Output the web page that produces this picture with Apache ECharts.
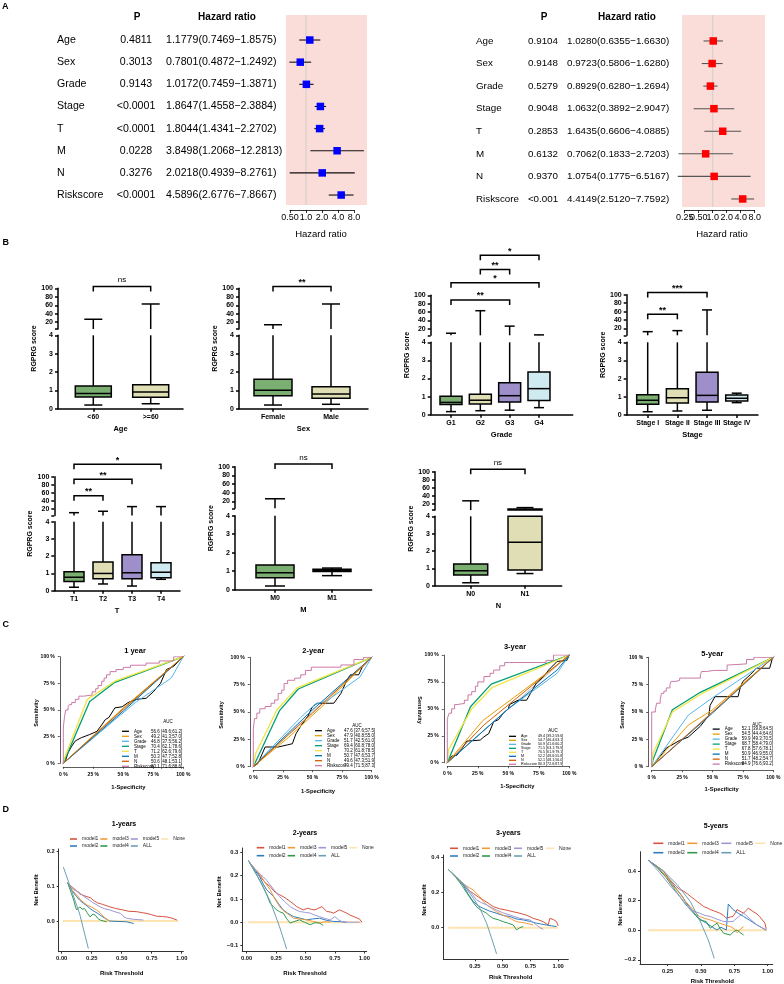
<!DOCTYPE html>
<html>
<head>
<meta charset="utf-8">
<script src="https://cdn.jsdelivr.net/npm/echarts@6/dist/echarts.min.js"></script>
<style>
html, body { margin: 0; padding: 0; background: #fff; }
#main { width: 784px; height: 984px; }
</style>
</head>
<body>
<div id="main"></div>
<script>
var FONT = '"Liberation Sans", Arial, Helvetica, sans-serif';
var LW = 1.5;

// ---------- A: cox forest plots ----------
var coxVars = ['Age', 'Sex', 'Grade', 'Stage', 'T', 'M', 'N', 'Riskscore'];
var coxLeftP = ['0.4811', '0.3013', '0.9143', '<0.0001', '<0.0001', '0.0228', '0.3276', '<0.0001'];
var coxLeftHR = [1.1779, 0.7801, 1.0172, 1.8647, 1.8044, 3.8498, 2.0218, 4.5896];
var coxLeftLo = [0.7469, 0.4872, 0.7459, 1.4558, 1.4341, 1.2068, 0.4939, 2.6776];
var coxLeftHi = [1.8575, 1.2492, 1.3871, 2.3884, 2.2702, 12.2813, 8.2761, 7.8667];
var coxLeftTicks = [0.5, 1, 2, 4, 8];
var coxRightP = ['0.9104', '0.9148', '0.5279', '0.9048', '0.2853', '0.6132', '0.9370', '<0.001'];
var coxRightHR = [1.0280, 0.9723, 0.8929, 1.0632, 1.6435, 0.7062, 1.0754, 4.4149];
var coxRightLo = [0.6355, 0.5806, 0.6280, 0.3892, 0.6606, 0.1833, 0.1775, 2.5120];
var coxRightHi = [1.6630, 1.6280, 1.2694, 2.9047, 4.0885, 2.7203, 6.5167, 7.7592];
var coxRightTicks = [0.25, 0.5, 1, 2, 4, 8];

// ---------- B: box plots [min, q1, median, q3, max] ----------
var ageCats = ['<60', '>=60'];
var ageStats = [[0.2, 0.64, 0.83, 1.24, 27], [0.27, 0.62, 0.91, 1.31, 63]];
var ageSig = [[0, 1, 104, 'ns']];
var sexCats = ['Female', 'Male'];
var sexStats = [[0.2, 0.71, 1.0, 1.6, 14], [0.24, 0.57, 0.8, 1.2, 63]];
var sexSig = [[0, 1, 104, '**']];
var gradeCats = ['G1', 'G2', 'G3', 'G4'];
var gradeStats = [[0.17, 0.57, 0.68, 1.02, 9], [0.22, 0.59, 0.8, 1.13, 63], [0.25, 0.7, 1.05, 1.77, 26], [0.39, 0.79, 1.44, 2.36, 5]];
var gradeSig = [[1, 3, 196, '*'], [1, 2, 162, '**'], [0, 3, 130, '*'], [0, 2, 89, '**']];
var stageCats = ['Stage I', 'Stage II', 'Stage III', 'Stage IV'];
var stageStats = [[0.18, 0.59, 0.81, 1.12, 12.6], [0.22, 0.66, 0.95, 1.45, 15], [0.26, 0.71, 1.08, 2.35, 64], [0.68, 0.77, 0.92, 1.1, 1.2]];
var stageSig = [[0, 2, 105, '***'], [0, 1, 54, '**']];
var tCats = ['T1', 'T2', 'T3', 'T4'];
var tStats = [[0.2, 0.54, 0.78, 1.1, 11], [0.39, 0.7, 1.0, 1.67, 14.5], [0.27, 0.7, 1.04, 2.09, 26], [0.66, 0.75, 1.07, 1.62, 26]];
var tSig = [[0, 3, 131, '*'], [0, 2, 94, '**'], [0, 1, 53, '**']];
var mCats = ['M0', 'M1'];
var mStats = [[0.2, 0.65, 0.92, 1.34, 26], [0.76, 0.98, 1.03, 1.1, 1.17]];
var mSig = [[0, 1, 106, 'ns']];
var nCats = ['N0', 'N1'];
var nStats = [[0.17, 0.62, 0.86, 1.25, 27], [0.7, 0.9, 2.5, 6.5, 10]];
var nSig = [[0, 1, 106, 'ns']];

// ---------- C: ROC curves [1-specificity, sensitivity] ----------
var roc1Age = [[0,0],[0.02,0.03],[0.04,0.1],[0.07,0.16],[0.1,0.21],[0.15,0.24],[0.22,0.27],[0.28,0.3],[0.32,0.36],[0.35,0.41],[0.38,0.43],[0.43,0.52],[0.49,0.53],[0.54,0.57],[0.61,0.6],[0.69,0.61],[0.75,0.67],[0.81,0.75],[0.86,0.88],[0.92,0.91],[1,1]];
var roc1Sex = [[0,0],[0.5,0.52],[1,1]];
var roc1Grade = [[0,0],[0.6,0.57],[0.9,0.8],[1,1]];
var roc1Stage = [[0,0],[0.22,0.58],[0.43,0.76],[1,1]];
var roc1T = [[0,0],[0.01,0.05],[0.2,0.6],[0.43,0.77],[1,1]];
var roc1M = [[0,0],[0.5,0.49],[1,1]];
var roc1N = [[0,0],[0.5,0.51],[1,1]];
var roc1Risk = [[0,0],[0,0.24],[0.01,0.33],[0.02,0.44],[0.04,0.5],[0.05,0.53],[0.07,0.55],[0.1,0.57],[0.13,0.6],[0.17,0.63],[0.24,0.64],[0.27,0.67],[0.29,0.7],[0.32,0.73],[0.34,0.77],[0.36,0.8],[0.39,0.83],[0.44,0.86],[0.5,0.88],[0.56,0.9],[0.69,0.92],[0.8,0.94],[0.92,0.96],[0.94,1],[1,1]];
var auc1 = ['56.6 [49.6;61.2]', '49.2 [41.3;57.0]', '46.8 [37.5;56.2]', '70.4 [62.1;78.6]', '71.2 [62.6;79.6]', '50.3 [47.7;52.8]', '50.6 [48.1;53.1]', '80.1 [71.6;88.6]'];

var roc2Age = [[0,0],[0.04,0.03],[0.1,0.18],[0.21,0.18],[0.29,0.2],[0.33,0.21],[0.36,0.3],[0.4,0.37],[0.46,0.46],[0.5,0.55],[0.54,0.58],[0.68,0.58],[0.74,0.67],[0.79,0.79],[0.82,0.84],[0.89,0.84],[0.92,0.91],[1,1]];
var roc2Sex = [[0,0],[0.3,0.27],[0.6,0.57],[1,1]];
var roc2Grade = [[0,0],[0.4,0.45],[0.52,0.57],[0.62,0.6],[0.9,0.82],[1,1]];
var roc2Stage = [[0,0],[0.22,0.51],[0.38,0.71],[1,1]];
var roc2T = [[0,0],[0.02,0.12],[0.2,0.52],[0.37,0.72],[1,1]];
var roc2M = [[0,0],[0.5,0.52],[1,1]];
var roc2N = [[0,0],[0.5,0.49],[1,1]];
var roc2Risk = [[0,0],[0,0.24],[0.01,0.34],[0.03,0.44],[0.055,0.49],[0.1,0.53],[0.15,0.55],[0.18,0.58],[0.21,0.61],[0.24,0.67],[0.26,0.7],[0.29,0.76],[0.35,0.79],[0.4,0.81],[0.44,0.84],[0.49,0.88],[0.51,0.91],[0.74,0.91],[0.85,0.93],[0.93,0.98],[0.94,1],[1,1]];
var auc2 = ['47.6 [37.6;57.5]', '47.9 [40.8;55.0]', '51.7 [42.5;61.0]', '69.4 [60.8;78.0]', '70.2 [61.8;78.5]', '50.7 [47.6;53.7]', '49.6 [47.3;51.9]', '79.4 [71.5;87.3]'];

var roc3Age = [[0,0],[0.02,0.03],[0.035,0.06],[0.08,0.07],[0.12,0.13],[0.16,0.2],[0.27,0.21],[0.3,0.24],[0.34,0.27],[0.38,0.38],[0.42,0.4],[0.46,0.46],[0.5,0.5],[0.51,0.54],[0.58,0.58],[0.65,0.58],[0.68,0.64],[0.73,0.74],[0.79,0.8],[0.83,0.86],[0.9,0.94],[0.98,0.95],[1,1]];
var roc3Sex = [[0,0],[0.29,0.39],[0.8,0.82],[1,1]];
var roc3Grade = [[0,0],[0.5,0.5],[0.9,0.83],[1,1]];
var roc3Stage = [[0,0],[0.19,0.52],[0.36,0.73],[1,1]];
var roc3T = [[0,0],[0.01,0.12],[0.2,0.5],[0.37,0.7],[1,1]];
var roc3M = [[0,0],[0.5,0.5],[0.9,0.86],[1,1]];
var roc3N = [[0,0],[0.3,0.35],[0.73,0.75],[1,1]];
var roc3Risk = [[0,0],[0,0.3],[0.016,0.41],[0.035,0.46],[0.06,0.5],[0.08,0.54],[0.14,0.55],[0.17,0.58],[0.2,0.63],[0.23,0.66],[0.25,0.71],[0.3,0.75],[0.35,0.8],[0.38,0.83],[0.43,0.86],[0.47,0.9],[0.51,0.93],[0.81,0.93],[0.87,0.95],[0.92,1],[1,1]];
var auc3 = ['49.4 [39.2;59.6]', '54.7 [46.4;63.1]', '50.9 [41.6;60.2]', '71.5 [63.1;79.9]', '70.5 [61.9;79.1]', '52.2 [48.6;55.8]', '52.1 [48.1;56.0]', '80.3 [72.6;87.9]'];

var roc5Age = [[0,0],[0.04,0.05],[0.12,0.17],[0.23,0.24],[0.3,0.27],[0.38,0.35],[0.4,0.37],[0.47,0.47],[0.48,0.56],[0.52,0.64],[0.71,0.64],[0.73,0.73],[0.75,0.78],[0.81,0.84],[0.86,0.9],[0.97,0.9],[0.99,0.98],[1,1]];
var roc5Sex = [[0,0],[0.3,0.38],[0.5,0.52],[1,1]];
var roc5Grade = [[0,0],[0.3,0.47],[0.5,0.63],[1,1]];
var roc5Stage = [[0,0],[0.01,0.06],[0.17,0.52],[0.4,0.68],[1,1]];
var roc5T = [[0,0],[0.01,0.12],[0.17,0.5],[0.4,0.66],[1,1]];
var roc5M = [[0,0],[0.5,0.49],[1,1]];
var roc5N = [[0,0],[0.5,0.5],[1,1]];
var roc5Risk = [[0,0],[0,0.46],[0.03,0.5],[0.04,0.52],[0.07,0.58],[0.08,0.61],[0.1,0.67],[0.12,0.69],[0.15,0.72],[0.16,0.75],[0.2,0.78],[0.23,0.79],[0.26,0.81],[0.4,0.81],[0.41,0.84],[0.45,0.87],[0.51,0.88],[0.62,0.88],[0.64,0.93],[0.78,0.94],[0.84,0.98],[0.86,1],[1,1]];
var auc5 = ['52.1 [39.8;64.5]', '54.5 [44.4;64.6]', '59.9 [49.3;70.5]', '68.7 [58.4;79.0]', '67.8 [57.6;78.1]', '50.9 [46.9;55.0]', '51.7 [48.2;54.7]', '84.9 [76.6;93.2]'];

// ---------- D: decision curves [threshold, net benefit] ----------
var dca1None = [[0.01,0],[0.97,0]];
var dca1All = [[0.014,0.155],[0.08,0.09],[0.15,0.02],[0.222,-0.079]];
var dca1M1 = [[0.05,0.11],[0.07,0.102],[0.09,0.097],[0.12,0.088],[0.15,0.078],[0.18,0.074],[0.21,0.07],[0.24,0.067],[0.27,0.058],[0.3,0.052],[0.34,0.048],[0.4,0.041],[0.45,0.036],[0.51,0.032],[0.56,0.028],[0.625,0.027],[0.67,0.024],[0.71,0.022],[0.75,0.018],[0.79,0.014],[0.84,0.013],[0.875,0.012],[0.92,0.008],[0.96,0.003]];
var dca1M2 = [[0.05,0.11],[0.09,0.085],[0.125,0.07],[0.15,0.06],[0.18,0.051],[0.21,0.044],[0.236,0.036],[0.27,0.028],[0.3,0.022],[0.32,0.017],[0.36,0.008],[0.4,0.0],[0.46,-0.001],[0.54,-0.002],[0.6,-0.007]];
var dca1M3 = [[0.05,0.11],[0.09,0.088],[0.125,0.075],[0.16,0.06],[0.21,0.046],[0.25,0.04],[0.29,0.032],[0.32,0.024],[0.35,0.012],[0.38,0.004],[0.4,-0.002]];
var dca1M4 = [[0.05,0.11],[0.08,0.08],[0.1,0.06],[0.115,0.04],[0.125,0.032],[0.15,0.041],[0.17,0.034],[0.19,0.036],[0.21,0.025],[0.236,0.012],[0.26,0.02],[0.28,0.017],[0.3,0.008],[0.32,0.003],[0.35,0.0],[0.375,-0.002]];
var dca1M5 = [[0.05,0.11],[0.1,0.09],[0.14,0.084],[0.18,0.072],[0.21,0.065],[0.26,0.053],[0.32,0.041],[0.36,0.035],[0.4,0.032],[0.45,0.026],[0.49,0.022],[0.52,0.012],[0.54,0.008],[0.6,0.005],[0.68,0.003]];

var dca2None = [[0.01,0],[0.98,0]];
var dca2All = [[0.014,0.267],[0.1,0.19],[0.2,0.09],[0.28,-0.02],[0.34,-0.116]];
var dca2M1 = [[0.02,0.26],[0.06,0.235],[0.085,0.22],[0.11,0.2],[0.14,0.18],[0.17,0.165],[0.2,0.153],[0.23,0.135],[0.255,0.124],[0.28,0.118],[0.31,0.11],[0.34,0.1],[0.37,0.089],[0.4,0.078],[0.425,0.067],[0.45,0.06],[0.48,0.053],[0.52,0.06],[0.55,0.055],[0.58,0.053],[0.61,0.06],[0.64,0.067],[0.68,0.046],[0.71,0.044],[0.74,0.039],[0.77,0.048],[0.79,0.053],[0.82,0.046],[0.85,0.039],[0.88,0.03],[0.91,0.024],[0.96,0.013],[0.98,0.0]];
var dca2M2 = [[0.02,0.26],[0.06,0.23],[0.11,0.196],[0.14,0.165],[0.17,0.139],[0.2,0.125],[0.23,0.11],[0.27,0.08],[0.31,0.053],[0.35,0.038],[0.4,0.024],[0.45,0.018],[0.51,0.01],[0.56,0.014],[0.62,0.017],[0.68,0.008],[0.74,0.003],[0.8,0.002],[0.85,0.0]];
var dca2M3 = [[0.02,0.26],[0.06,0.235],[0.11,0.21],[0.15,0.175],[0.2,0.139],[0.24,0.1],[0.28,0.067],[0.31,0.05],[0.34,0.039],[0.37,0.028],[0.4,0.017],[0.45,0.014],[0.51,0.01],[0.56,0.004],[0.62,-0.004],[0.66,0.002],[0.71,0.0]];
var dca2M4 = [[0.02,0.26],[0.06,0.225],[0.1,0.19],[0.14,0.153],[0.17,0.12],[0.2,0.081],[0.23,0.065],[0.255,0.053],[0.28,0.045],[0.31,0.039],[0.34,0.015],[0.37,-0.004],[0.41,0.004],[0.45,0.01],[0.49,0.0],[0.54,-0.011],[0.58,-0.002],[0.62,-0.004],[0.65,-0.014]];
var dca2M5 = [[0.02,0.26],[0.06,0.235],[0.1,0.21],[0.14,0.196],[0.17,0.18],[0.2,0.16],[0.24,0.135],[0.28,0.11],[0.32,0.09],[0.37,0.067],[0.41,0.055],[0.45,0.046],[0.5,0.042],[0.54,0.039],[0.58,0.03],[0.62,0.024],[0.66,0.017],[0.71,0.01],[0.75,0.024],[0.78,0.01],[0.82,0.0],[0.96,0.0]];

var dca3None = [[0.01,0],[1.0,0]];
var dca3All = [[0.01,0.333],[0.145,0.25],[0.235,0.168],[0.295,0.11],[0.355,0.025],[0.4,-0.06],[0.445,-0.15]];
var dca3M1 = [[0.01,0.333],[0.08,0.29],[0.145,0.244],[0.19,0.215],[0.235,0.196],[0.28,0.175],[0.325,0.158],[0.37,0.14],[0.415,0.12],[0.47,0.108],[0.535,0.1],[0.6,0.09],[0.655,0.082],[0.72,0.07],[0.775,0.053],[0.82,0.045],[0.865,0.034],[0.91,0.015],[0.925,0.053],[0.96,0.045],[0.985,0.034],[1.0,0.01]];
var dca3M2 = [[0.01,0.333],[0.08,0.29],[0.145,0.244],[0.19,0.19],[0.235,0.149],[0.28,0.125],[0.325,0.11],[0.38,0.095],[0.445,0.082],[0.5,0.07],[0.565,0.063],[0.62,0.05],[0.685,0.044],[0.75,0.035],[0.805,0.025],[0.85,0.02],[0.895,0.015],[0.94,0.01],[0.985,0.006]];
var dca3M3 = [[0.01,0.333],[0.08,0.29],[0.16,0.244],[0.2,0.228],[0.235,0.215],[0.265,0.195],[0.295,0.177],[0.325,0.15],[0.355,0.13],[0.4,0.11],[0.445,0.091],[0.49,0.075],[0.535,0.063],[0.58,0.048],[0.625,0.034],[0.67,0.03],[0.715,0.025],[0.745,0.02],[0.775,0.015]];
var dca3M4 = [[0.01,0.333],[0.08,0.285],[0.13,0.244],[0.175,0.2],[0.22,0.158],[0.25,0.13],[0.28,0.11],[0.32,0.095],[0.355,0.082],[0.385,0.065],[0.415,0.053],[0.46,0.045],[0.505,0.034],[0.55,0.025],[0.595,0.015],[0.625,-0.013],[0.655,0.0],[0.685,0.006]];
var dca3M5 = [[0.01,0.333],[0.08,0.29],[0.13,0.26],[0.175,0.234],[0.22,0.195],[0.265,0.158],[0.31,0.142],[0.355,0.13],[0.4,0.115],[0.445,0.1],[0.5,0.085],[0.565,0.072],[0.61,0.062],[0.655,0.053],[0.7,0.048],[0.745,0.044],[0.775,0.03],[0.805,0.015],[0.835,0.0],[0.865,-0.01]];

var dca4None = [[0.105,0],[0.99,0]];
var dca4All = [[0.105,0.473],[0.22,0.4],[0.32,0.31],[0.42,0.195],[0.49,0.07],[0.555,-0.066],[0.6,-0.19]];
var dca4M1 = [[0.105,0.473],[0.16,0.44],[0.22,0.4],[0.25,0.36],[0.29,0.32],[0.31,0.3],[0.34,0.275],[0.37,0.264],[0.4,0.245],[0.42,0.23],[0.45,0.21],[0.47,0.195],[0.5,0.175],[0.52,0.16],[0.55,0.15],[0.57,0.14],[0.6,0.13],[0.64,0.116],[0.67,0.1],[0.69,0.082],[0.72,0.09],[0.74,0.093],[0.76,0.12],[0.77,0.14],[0.8,0.125],[0.82,0.116],[0.84,0.135],[0.855,0.15],[0.89,0.127],[0.92,0.11],[0.94,0.093],[0.96,0.07],[0.98,0.048],[0.99,0.007]];
var dca4M2 = [[0.105,0.473],[0.17,0.43],[0.24,0.366],[0.28,0.32],[0.32,0.275],[0.36,0.23],[0.39,0.184],[0.43,0.14],[0.47,0.093],[0.51,0.065],[0.54,0.048],[0.58,0.025],[0.62,0.002],[0.65,0.02],[0.69,0.002],[0.705,0.177],[0.74,0.14],[0.78,0.115],[0.82,0.093],[0.87,0.065],[0.92,0.036],[0.99,0.0]];
var dca4M3 = [[0.105,0.473],[0.17,0.43],[0.24,0.366],[0.29,0.3],[0.34,0.25],[0.38,0.2],[0.42,0.16],[0.45,0.13],[0.49,0.093],[0.53,0.08],[0.57,0.07],[0.6,0.06],[0.64,0.048],[0.68,0.035],[0.72,0.025],[0.75,0.01],[0.77,-0.016],[0.8,0.01],[0.82,0.025]];
var dca4M4 = [[0.105,0.473],[0.17,0.425],[0.24,0.355],[0.29,0.29],[0.34,0.23],[0.38,0.18],[0.42,0.14],[0.46,0.1],[0.49,0.07],[0.54,0.059],[0.57,0.014],[0.6,0.035],[0.62,0.048],[0.645,0.01],[0.67,-0.02],[0.72,-0.032],[0.745,-0.01],[0.77,0.002],[0.8,-0.02],[0.82,-0.032]];
var dca4M5 = [[0.105,0.473],[0.15,0.43],[0.19,0.39],[0.23,0.345],[0.27,0.3],[0.31,0.26],[0.34,0.23],[0.38,0.185],[0.42,0.14],[0.46,0.125],[0.49,0.116],[0.53,0.1],[0.57,0.093],[0.62,0.075],[0.67,0.059],[0.7,0.058],[0.74,0.059],[0.78,0.09],[0.82,0.116],[0.87,0.075],[0.92,0.036],[0.96,0.015],[0.99,0.002]];

// ---------- styles ----------
var BOX_FILL = ['#7BAF72', '#DFDEB4', '#9E8FCB', '#CFEAF0'];
var ROC_VARS = ['Age', 'Sex', 'Grade', 'Stage', 'T', 'M', 'N', 'Riskscore'];
var ROC_COLORS = ['#000000', '#E69F00', '#56B4E9', '#009E73', '#F0E442', '#0072B2', '#D55E00', '#CC79A7'];
var DCA_COLORS = { model1: '#D6533F', model2: '#2F7DBF', model3: '#F29A38', model4: '#2F9A4E', model5: '#9D99D4', ALL: '#6C9FB6', None: '#FDE3B0' };

var grids = [], xAxes = [], yAxes = [], series = [], graphics = [], legends = [];

function addGrid(g, xa, ya) {
  g.containLabel = false;
  g.outerBoundsMode = 'none';
  grids.push(g);
  var gi = grids.length - 1;
  xa.gridIndex = gi; ya.gridIndex = gi;
  xAxes.push(xa); yAxes.push(ya);
  return gi;
}

function textEl(x, y, s, size, bold, align, rot, vAlign) {
  return {
    type: 'text', x: x, y: y, rotation: rot || 0, silent: true,
    style: {
      text: s, fill: '#000', fontSize: size, fontWeight: bold ? 'bold' : 'normal', fontFamily: FONT,
      align: align || 'center', verticalAlign: vAlign || 'middle',
      textAlign: align || 'center', textVerticalAlign: vAlign || 'middle'
    }
  };
}
function txt(x, y, s, size, bold, align, rot) { graphics.push(textEl(x, y, s, size, bold, align, rot)); }

function seg(x1, y1, x2, y2, w, c) {
  return { type: 'line', shape: { x1: x1, y1: y1, x2: x2, y2: y2 }, style: { stroke: c || '#000', lineWidth: w || LW } };
}

// ---------- A ----------
function hrText(h, l, u) { return h.toFixed(4) + '(' + l.toFixed(4) + '\u2212' + u.toFixed(4) + ')'; }

function forest(L, hr, lo, hi, pTxt, ticks, sqColor, ciColor) {
  var gi = addGrid({ left: L.gx, top: L.top, width: L.gw, height: L.h },
    { type: 'log', logBase: 2, min: L.xmin, max: L.xmax, offset: L.axOff,
      axisLine: { onZero: false, lineStyle: { color: '#000', width: 0.8 } },
      axisTick: { length: 3, lineStyle: { color: '#000', width: 0.8 } },
      axisLabel: { show: false },
      splitLine: { show: false } },
    { type: 'value', inverse: true, min: L.ymin, max: L.ymax, show: false,
      axisLine: { onZero: false }, splitLine: { show: false } });

  series.push({ type: 'custom', xAxisIndex: gi, yAxisIndex: gi, silent: true, z: 1,
    data: [[L.pinkLo, 0]],
    renderItem: function (params, api) {
      var cs = params.coordSys;
      var a = api.coord([L.pinkLo, 0])[0], b = api.coord([L.pinkHi, 0])[0], one = api.coord([1, 0])[0];
      return { type: 'group', children: [
        { type: 'rect', shape: { x: a, y: cs.y, width: b - a, height: cs.height }, style: { fill: '#FADCD8' } },
        seg(one, cs.y, one, cs.y + cs.height, 0.8, '#C8C8C8')
      ] };
    } });

  // tick labels (drawn directly so overlapping labels are kept, as in the original)
  series.push({ type: 'custom', xAxisIndex: gi, yAxisIndex: gi, silent: true, z: 3,
    data: ticks.map(function (t) { return [t, 0]; }),
    renderItem: function (params, api) {
      var cs = params.coordSys, t = ticks[params.dataIndex];
      var x = api.coord([t, 0])[0];
      return textEl(x, cs.y + cs.height + L.axOff + 8, t < 0.99 ? t.toFixed(2) : t.toFixed(1), 9, false, 'center');
    } });

  series.push({ type: 'custom', xAxisIndex: gi, yAxisIndex: gi, silent: true, z: 3,
    data: hr.map(function (v, i) { return [v, i, lo[i], hi[i]]; }),
    renderItem: function (params, api) {
      var i = params.dataIndex;
      var m = api.coord([hr[i], i]), a = api.coord([lo[i], i]), b = api.coord([hi[i], i]);
      var s = 7.5, y = m[1];
      return { type: 'group', children: [
        seg(a[0], y, b[0], y, 1.1, ciColor),
        { type: 'rect', shape: { x: m[0] - s / 2, y: y - s / 2, width: s, height: s }, style: { fill: sqColor } },
        textEl(L.labX, y, coxVars[i], L.fs, false, 'left'),
        textEl(L.pX, y, pTxt[i], L.fs, false, 'center'),
        textEl(L.hrX, y, hrText(hr[i], lo[i], hi[i]), L.fs, false, 'left')
      ] };
    } });

  txt(L.pX + 1, 17, 'P', 10, true);
  txt(L.hrHead, 17, 'Hazard ratio', 10, true);
  txt(L.axTitle, 234, 'Hazard ratio', 9.5, false);
}

forest({ gx: 290, gw: 64, top: 15, h: 190, xmin: 0.5, xmax: 8, ymin: -1.13, ymax: 7.45, axOff: 5,
  pinkLo: 0.42, pinkHi: 14.05, labX: 57, pX: 136, hrX: 166, fs: 10.6, hrHead: 227, axTitle: 321 },
  coxLeftHR, coxLeftLo, coxLeftHi, coxLeftP, coxLeftTicks, '#0000FF', '#111');
forest({ gx: 684.7, gw: 70, top: 15, h: 192, xmin: 0.25, xmax: 8, ymin: -1.15, ymax: 7.356, axOff: 3,
  pinkLo: 0.219, pinkHi: 13.3, labX: 476, pX: 543, hrX: 567, fs: 9.8, hrHead: 627, axTitle: 722 },
  coxRightHR, coxRightLo, coxRightHi, coxRightP, coxRightTicks, '#FF0000', '#555');

// ---------- B ----------
function boxPlot(cats, stats, sigs, L, xName) {
  var xmin = 1 - (L.c1 - L.ax) / L.step;
  var xmax = xmin + (L.xEnd - L.ax) / L.step;
  var W = L.xEnd - L.ax;
  var idx = cats.map(function (c, i) { return i + 1; });
  var axLine = { show: true, onZero: false, lineStyle: { color: '#000', width: LW } };
  var axTick = function (vals) { return { show: true, length: 3, lineStyle: { color: '#000', width: LW }, customValues: vals }; };
  var lab = { fontSize: 7, fontWeight: 'bold', color: '#000', margin: 5, fontFamily: FONT };

  var gu = addGrid({ left: L.ax, top: L.y100, width: W, height: L.brk - L.y100 },
    { type: 'value', min: xmin, max: xmax, show: false, axisLine: { onZero: false }, splitLine: { show: false } },
    { type: 'value', min: 4, max: 100, axisLine: axLine, axisTick: axTick([4, 20, 40, 60, 80, 100]),
      axisLabel: Object.assign({ customValues: [20, 40, 60, 80, 100] }, lab), splitLine: { show: false } });
  var gl = addGrid({ left: L.ax, top: L.y4, width: W, height: L.y0 - L.y4 },
    { type: 'value', min: xmin, max: xmax, axisLine: axLine, axisTick: axTick(idx),
      axisLabel: Object.assign({ customValues: idx, formatter: function (v) { return cats[Math.round(v) - 1]; } }, lab),
      splitLine: { show: false } },
    { type: 'value', min: 0, max: 4, interval: 1, axisLine: axLine,
      axisTick: { show: true, length: 3, lineStyle: { color: '#000', width: LW } },
      axisLabel: lab, splitLine: { show: false } });

  var hb = L.bw / 2, hc = L.cw / 2;
  series.push({ type: 'custom', xAxisIndex: gl, yAxisIndex: gl, silent: true, z: 5,
    data: stats.map(function (s, i) { return [i + 1].concat(s); }),
    renderItem: function (params, api) {
      var i = params.dataIndex, s = stats[i], x = i + 1;
      var cx = api.coord([x, 0])[0];
      var Y = function (v) { return api.coord([x, Math.min(v, 4)])[1]; };
      var kids = [
        seg(cx, Y(s[0]), cx, Y(s[1])),
        seg(cx - hc, Y(s[0]), cx + hc, Y(s[0])),
        seg(cx, Y(s[3]), cx, Y(s[4]))
      ];
      if (s[4] <= 4) kids.push(seg(cx - hc, Y(s[4]), cx + hc, Y(s[4])));
      kids.push({ type: 'rect', shape: { x: cx - hb, y: Y(s[3]), width: L.bw, height: Y(s[1]) - Y(s[3]) },
        style: { fill: BOX_FILL[i], stroke: '#000', lineWidth: LW } });
      kids.push(seg(cx - hb, Y(s[2]), cx + hb, Y(s[2])));
      return { type: 'group', children: kids };
    } });

  series.push({ type: 'custom', xAxisIndex: gu, yAxisIndex: gu, silent: true, z: 5,
    data: stats.map(function (s, i) { return [i + 1, Math.min(s[4], 100)]; }),
    renderItem: function (params, api) {
      var i = params.dataIndex, s = stats[i], x = i + 1;
      if (s[4] <= 4) return { type: 'group', children: [] };
      var cx = api.coord([x, 4])[0], yb = api.coord([x, 4])[1], ym = api.coord([x, s[4]])[1];
      var kids = [];
      if (s[3] > 4) {
        var yq = api.coord([x, s[3]])[1];
        kids.push(seg(cx, yq, cx, ym));
        kids.push({ type: 'rect', shape: { x: cx - hb, y: yq, width: L.bw, height: yb - yq },
          style: { fill: BOX_FILL[i], stroke: '#000', lineWidth: LW } });
      } else {
        kids.push(seg(cx, yb, cx, ym));
      }
      kids.push(seg(cx - hc, ym, cx + hc, ym));
      return { type: 'group', children: kids };
    } });

  series.push({ type: 'custom', xAxisIndex: gu, yAxisIndex: gu, silent: true, z: 6,
    data: sigs.map(function (g) { return [g[0] + 1, g[2]]; }),
    renderItem: function (params, api) {
      var g = sigs[params.dataIndex];
      var a = api.coord([g[0] + 1, g[2]]), b = api.coord([g[1] + 1, g[2]]);
      var ns = g[3] === 'ns';
      return { type: 'group', children: [
        { type: 'polyline', shape: { points: [[a[0], a[1] + 5], [a[0], a[1]], [b[0], b[1]], [b[0], b[1] + 5]] },
          style: { stroke: '#000', lineWidth: LW, fill: null } },
        textEl((a[0] + b[0]) / 2, a[1] - (ns ? 6.5 : 4), g[3], ns ? 8 : 9, !ns, 'center')
      ] };
    } });

  txt((L.ax + L.xEnd) / 2, L.y0 + 20, xName, 7.5, true);
  txt(L.ax - 24, (L.y100 + L.y0) / 2, 'RGPRG score', 7, true, 'center', Math.PI / 2);
}

boxPlot(ageCats, ageStats, ageSig, { ax: 58, xEnd: 183, c1: 93.3, step: 57.4, y100: 288.3, brk: 329, y4: 335.3, y0: 408.7, bw: 36, cw: 18 }, 'Age');
boxPlot(sexCats, sexStats, sexSig, { ax: 239, xEnd: 368, c1: 273, step: 58, y100: 288.3, brk: 329, y4: 335.3, y0: 408.7, bw: 38, cw: 18 }, 'Sex');
boxPlot(gradeCats, gradeStats, gradeSig, { ax: 430.7, xEnd: 572.7, c1: 451, step: 29.33, y100: 295.3, brk: 335.3, y4: 342.3, y0: 414.7, bw: 22, cw: 10 }, 'Grade');
boxPlot(stageCats, stageStats, stageSig, { ax: 626.7, xEnd: 758, c1: 647.7, step: 29.67, y100: 294.7, brk: 335.3, y4: 342.3, y0: 415, bw: 22, cw: 10 }, 'Stage');
boxPlot(tCats, tStats, tSig, { ax: 54.3, xEnd: 180, c1: 74, step: 29, y100: 476.7, brk: 515.5, y4: 521.7, y0: 590.7, bw: 20, cw: 10 }, 'T');
boxPlot(mCats, mStats, mSig, { ax: 235, xEnd: 371.7, c1: 275, step: 57, y100: 466.7, brk: 508.3, y4: 515.7, y0: 589.7, bw: 38, cw: 20 }, 'M');
boxPlot(nCats, nStats, nSig, { ax: 435, xEnd: 561.7, c1: 470.7, step: 54.3, y100: 471.7, brk: 510, y4: 516.3, y0: 585.7, bw: 34, cw: 17 }, 'N');

// ---------- C ----------
function rocAxis() {
  return { type: 'value', min: 0, max: 1, interval: 0.25, offset: 3.5,
    axisLine: { onZero: false, lineStyle: { color: '#333', width: 0.8 } },
    axisTick: { length: 2, lineStyle: { color: '#333', width: 0.8 } },
    axisLabel: { formatter: function (v) { return Math.round(v * 100) + ' %'; }, fontSize: 5, fontWeight: 'bold',
      color: '#000', margin: 5, fontFamily: FONT },
    splitLine: { show: false } };
}

function rocPlot(L, title, curves, auc) {
  var gi = addGrid({ left: L.x0, top: L.y1, width: L.x1 - L.x0, height: L.y0 - L.y1 }, rocAxis(), rocAxis());
  series.push({ type: 'line', xAxisIndex: gi, yAxisIndex: gi, silent: true, clip: false, symbol: 'none',
    data: [[-0.04, -0.04], [1.04, 1.04]], lineStyle: { color: '#BDBDBD', width: 1 }, z: 1 });
  ROC_VARS.forEach(function (v, k) {
    series.push({ type: 'line', name: title + '|' + v, xAxisIndex: gi, yAxisIndex: gi, silent: true,
      symbol: 'none', data: curves[k], color: ROC_COLORS[k], step: v === 'Riskscore' ? 'start' : false,
      lineStyle: { color: ROC_COLORS[k], width: (v === 'Stage' || v === 'T') ? 1.3 : 1 }, z: 2 + k });
  });
  var gap = (L.ly1 - L.ly0) / 7, fs = Math.min(4.5, gap + 0.3);
  legends.push({ orient: 'vertical', left: L.lx, top: L.ly0 - gap / 2, padding: 0, itemGap: 0,
    itemWidth: 7, itemHeight: 1.3, icon: 'rect', selectedMode: false,
    data: ROC_VARS.map(function (v) { return title + '|' + v; }),
    formatter: function (name) {
      var k = name.split('|')[1];
      return '{n|' + k + '}{v|' + auc[ROC_VARS.indexOf(k)] + '}';
    },
    textStyle: { fontSize: fs, lineHeight: gap, color: '#000', fontFamily: FONT,
      rich: { n: { width: 17, fontSize: fs, lineHeight: gap, fontFamily: FONT, color: '#000' },
              v: { fontSize: fs, lineHeight: gap, fontFamily: FONT, color: '#000' } } } });
  txt(L.auc[0], L.auc[1], 'AUC', 4.5, false);
  txt(L.title[0], L.title[1], title, 7.5, true);
  txt(L.sens[0], L.sens[1], 'Sensitivity', 5.5, true, 'center', L.rot * Math.PI / 2);
  txt(L.spec[0], L.spec[1], '1-Specificity', 5.8, true);
}

rocPlot({ x0: 63.3, y0: 763.3, x1: 183.3, y1: 656.7, title: [135, 651], sens: [36.7, 713], spec: [128.3, 787.3],
  auc: [168, 722], lx: 122, ly0: 731, ly1: 762, rot: 1 }, '1 year',
  [roc1Age, roc1Sex, roc1Grade, roc1Stage, roc1T, roc1M, roc1N, roc1Risk], auc1);
rocPlot({ x0: 253.3, y0: 766.7, x1: 371.7, y1: 657.3, title: [313.3, 651], sens: [221.7, 715], spec: [318, 791.7],
  auc: [357, 726], lx: 315, ly0: 730.5, ly1: 763, rot: 1 }, '2-year',
  [roc2Age, roc2Sex, roc2Grade, roc2Stage, roc2T, roc2M, roc2N, roc2Risk], auc2);
rocPlot({ x0: 447.3, y0: 762.7, x1: 569.3, y1: 655, title: [515, 646.7], sens: [419.3, 710], spec: [517.3, 786],
  auc: [553, 731], lx: 509, ly0: 736, ly1: 759.5, rot: -1 }, '3-year',
  [roc3Age, roc3Sex, roc3Grade, roc3Stage, roc3T, roc3M, roc3N, roc3Risk], auc3);
rocPlot({ x0: 651.7, y0: 766.7, x1: 773.3, y1: 657.3, title: [712.3, 654], sens: [622.7, 715], spec: [721.7, 789.3],
  auc: [757, 725], lx: 712.7, ly0: 729, ly1: 762.3, rot: 1 }, '5-year',
  [roc5Age, roc5Sex, roc5Grade, roc5Stage, roc5T, roc5M, roc5N, roc5Risk], auc5);

// ---------- D ----------
function dcaPlot(L, title, curves) {
  var fmtY = function (v) { return (Math.abs(v) < 1e-9 ? '0.0' : v.toFixed(1)).replace('-', '\u2212'); };
  var axLine = { onZero: false, lineStyle: { color: '#333', width: 1 } };
  var lab = { fontSize: 5.8, fontWeight: 'bold', color: '#111', fontFamily: FONT, margin: 4 };
  var gi = addGrid({ left: L.ax, top: L.top, width: L.right - L.ax, height: L.bottom - L.top },
    { type: 'value', min: L.xmin, max: L.xmax, axisLine: axLine,
      axisTick: { length: 2, customValues: L.xt, lineStyle: { color: '#333', width: 1 } },
      axisLabel: Object.assign({ customValues: L.xt, formatter: function (v) { return v.toFixed(2); } }, lab),
      splitLine: { show: false } },
    { type: 'value', min: L.ymin, max: L.ymax, axisLine: axLine,
      axisTick: { length: 2, customValues: L.yt, lineStyle: { color: '#333', width: 1 } },
      axisLabel: Object.assign({ customValues: L.yt, formatter: fmtY }, lab),
      splitLine: { show: false } });
  var order = ['None', 'model1', 'model2', 'model3', 'model4', 'model5', 'ALL'];
  order.forEach(function (k, j) {
    series.push({ type: 'line', name: title + '|' + k, xAxisIndex: gi, yAxisIndex: gi, silent: true,
      symbol: 'none', data: curves[k], color: DCA_COLORS[k],
      lineStyle: { color: DCA_COLORS[k], width: k === 'None' ? 2 : 1 }, z: 2 + j });
  });
  var rows = [['model1', 'model3', 'model5', 'None'], ['model2', 'model4', 'ALL']];
  rows.forEach(function (r, ri) {
    legends.push({ orient: 'horizontal', left: L.lx, top: L.ly[ri] - 3, width: 300, padding: 0, itemGap: 2,
      itemWidth: L.iw, itemHeight: 1.6, icon: 'rect', selectedMode: false,
      data: r.map(function (k) { return title + '|' + k; }),
      formatter: function (name) { return name.split('|')[1]; },
      textStyle: { fontSize: 5, lineHeight: 6, width: L.pitch - L.iw - 7, color: '#222', fontFamily: FONT } });
  });
  txt(L.title[0], L.title[1], title, 7, true);
  txt(L.rt[0], L.rt[1], 'Risk Threshold', 6, true);
  txt(L.nb[0], L.nb[1], 'Net Benefit', 6, true, 'center', Math.PI / 2);
}

dcaPlot({ ax: 58.7, top: 849, right: 183.3, bottom: 951.7, xmin: -0.025, xmax: 1.013, ymin: -0.088, ymax: 0.207,
  xt: [0, 0.25, 0.5, 0.75, 1], yt: [0, 0.1, 0.2], title: [124, 824.3], lx: 70, ly: [839, 846], pitch: 29, iw: 7,
  rt: [121.7, 973.3], nb: [36, 890] }, '1-years',
  { None: dca1None, ALL: dca1All, model1: dca1M1, model2: dca1M2, model3: dca1M3, model4: dca1M4, model5: dca1M5 });
dcaPlot({ ax: 242.3, top: 848, right: 366.7, bottom: 951.5, xmin: -0.037, xmax: 1.02, ymin: -0.126, ymax: 0.319,
  xt: [0, 0.25, 0.5, 0.75, 1], yt: [-0.1, 0, 0.1, 0.2, 0.3], title: [305, 832.7], lx: 256.7, ly: [847.7, 855.7], pitch: 30.5, iw: 7.5,
  rt: [305, 973.3], nb: [219.3, 892] }, '2-years',
  { None: dca2None, ALL: dca2All, model1: dca2M1, model2: dca2M2, model3: dca2M3, model4: dca2M4, model5: dca2M5 });
dcaPlot({ ax: 443.3, top: 855, right: 568.3, bottom: 959.3, xmin: -0.035, xmax: 1.091, ymin: -0.181, ymax: 0.415,
  xt: [0.25, 0.5, 0.75, 1], yt: [0, 0.2, 0.4], title: [508.3, 832.7], lx: 450, ly: [848.3, 856], pitch: 32, iw: 8,
  rt: [510.7, 977.7], nb: [424, 900] }, '3-years',
  { None: dca3None, ALL: dca3All, model1: dca3M1, model2: dca3M2, model3: dca3M3, model4: dca3M4, model5: dca3M5 });
dcaPlot({ ax: 640, top: 851.7, right: 772.7, bottom: 964, xmin: 0.043, xmax: 1.038, ymin: -0.228, ymax: 0.531,
  xt: [0.25, 0.5, 0.75, 1], yt: [-0.2, 0, 0.2, 0.4], title: [716, 826], lx: 653.3, ly: [843.3, 852.7], pitch: 34, iw: 10,
  rt: [712.3, 981], nb: [620, 910] }, '5-years',
  { None: dca4None, ALL: dca4All, model1: dca4M1, model2: dca4M2, model3: dca4M3, model4: dca4M4, model5: dca4M5 });

// panel letters
txt(2, 7, 'A', 9, true, 'left');
txt(2.5, 243, 'B', 9, true, 'left');
txt(2.5, 625, 'C', 9, true, 'left');
txt(2.5, 810, 'D', 9, true, 'left');

var myChart = echarts.init(document.getElementById('main'), null, { renderer: 'canvas' });
myChart.setOption({
  animation: false,
  backgroundColor: '#fff',
  textStyle: { fontFamily: FONT },
  grid: grids,
  xAxis: xAxes,
  yAxis: yAxes,
  legend: legends,
  series: series,
  graphic: { elements: graphics }
});
</script>
</body>
</html>
